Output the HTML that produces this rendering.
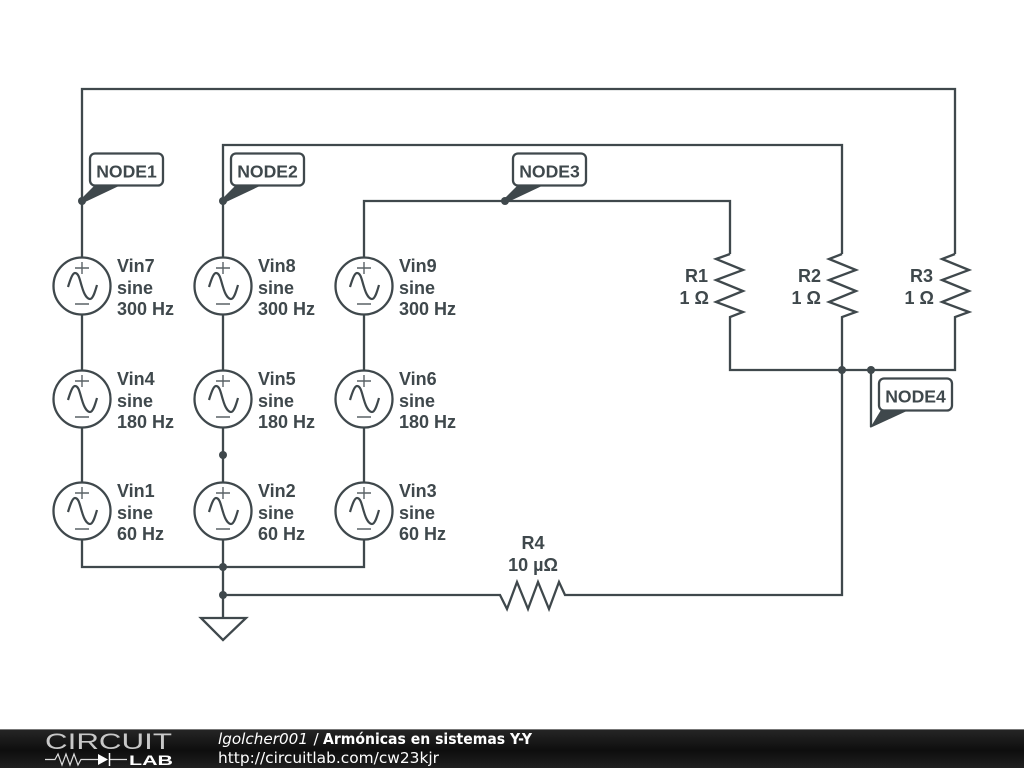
<!DOCTYPE html>
<html>
<head>
<meta charset="utf-8">
<style>
html,body{margin:0;padding:0;background:#fff;width:1024px;height:768px;overflow:hidden}
svg{display:block}
.w{fill:none;stroke:#3f484c;stroke-width:2.3}
.d{fill:#3f484c}
.t{font-family:"Liberation Sans",sans-serif;font-weight:bold;font-size:18px;fill:#3f484c}
.n{font-size:17.6px}
.f{font-family:"DejaVu Sans",sans-serif;font-size:15.4px;fill:#fff}
</style>
</head>
<body>
<svg width="1024" height="768" viewBox="0 0 1024 768" xmlns="http://www.w3.org/2000/svg">
<defs>
<linearGradient id="bar" x1="0" y1="0" x2="0" y2="1">
<stop offset="0" stop-color="#262626"/><stop offset="0.55" stop-color="#0e0e0e"/><stop offset="1" stop-color="#202020"/>
</linearGradient>
<g id="src">
<circle cx="0" cy="0" r="28.500" fill="#fff" stroke="#3f484c" stroke-width="2.300"/>
<path fill="none" stroke="#3f484c" stroke-width="2.200" d="M-14 1C-11 -9 -9 -13 -7 -13C-3 -13 -2 -5 0 1C2 8 5 13 8 13C11 13 13 6 15 -1"/>
<path fill="none" stroke="#5a6266" stroke-width="1.400" d="M-7 -18H7M0 -24V-12M-7 18H7"/>
</g>
</defs>

<!-- wires -->
<path class="w" d="M82 286V89H955V254"/>
<path class="w" d="M223 286V145H842V254"/>
<path class="w" d="M364 286V201H730V254"/>
<path class="w" d="M82 286V567H364V286"/>
<path class="w" d="M223 286V618"/>
<path class="w" d="M730 318V370H955V318"/>
<path class="w" d="M842 318V595H565L559 582L549 609L538 582L528 609L517 582L507 609L500 595H223"/>
<path class="w" d="M201 618H246L223 640Z"/>

<!-- resistors -->
<path class="w" d="M730 254L716 259L743 270L716 280L743 291L716 302L743 312L730 317V318"/>
<path class="w" d="M842 254L829 259L856 270L829 280L856 291L829 302L856 312L842 317V318"/>
<path class="w" d="M955 254L942 259L969 270L942 280L969 291L942 302L969 312L955 317V318"/>

<!-- sources -->
<use href="#src" x="82" y="286"/><use href="#src" x="223" y="286"/><use href="#src" x="364" y="286"/>
<use href="#src" x="82" y="399"/><use href="#src" x="223" y="399"/><use href="#src" x="364" y="399"/>
<use href="#src" x="82" y="511"/><use href="#src" x="223" y="511"/><use href="#src" x="364" y="511"/>

<!-- junction dots -->
<circle class="d" cx="82" cy="201" r="4"/>
<circle class="d" cx="223" cy="201" r="4"/>
<circle class="d" cx="505" cy="201" r="4"/>
<circle class="d" cx="223" cy="455" r="4"/>
<circle class="d" cx="223" cy="567" r="4"/>
<circle class="d" cx="223" cy="595" r="4"/>
<circle class="d" cx="842" cy="370" r="4"/>
<circle class="d" cx="871" cy="370" r="4"/>

<!-- node labels -->
<path class="d" d="M80 200L95 185H121L83 203Z"/>
<path class="d" d="M221 200L236 185H262L224 203Z"/>
<path class="d" d="M503 200L518 185H544L506 203Z"/>
<path class="w" d="M871 370V427"/>
<path class="d" d="M870 428L881 410H909Z"/>
<rect x="90" y="153.500" width="73" height="32" rx="5" fill="#fff" stroke="#3f484c" stroke-width="2.300"/>
<rect x="231" y="153.500" width="73" height="32" rx="5" fill="#fff" stroke="#3f484c" stroke-width="2.300"/>
<rect x="513" y="153.500" width="73" height="32" rx="5" fill="#fff" stroke="#3f484c" stroke-width="2.300"/>
<rect x="879" y="378.500" width="73" height="32" rx="5" fill="#fff" stroke="#3f484c" stroke-width="2.300"/>
<text class="t n" x="126.500" y="177.500" text-anchor="middle">NODE1</text>
<text class="t n" x="267.500" y="177.500" text-anchor="middle">NODE2</text>
<text class="t n" x="549.500" y="177.500" text-anchor="middle">NODE3</text>
<text class="t n" x="915.500" y="402.500" text-anchor="middle">NODE4</text>

<!-- source labels -->
<text class="t" x="117" y="272">Vin7</text><text class="t" x="117" y="294">sine</text><text class="t" x="117" y="315">300 Hz</text>
<text class="t" x="258" y="272">Vin8</text><text class="t" x="258" y="294">sine</text><text class="t" x="258" y="315">300 Hz</text>
<text class="t" x="399" y="272">Vin9</text><text class="t" x="399" y="294">sine</text><text class="t" x="399" y="315">300 Hz</text>
<text class="t" x="117" y="385">Vin4</text><text class="t" x="117" y="407">sine</text><text class="t" x="117" y="428">180 Hz</text>
<text class="t" x="258" y="385">Vin5</text><text class="t" x="258" y="407">sine</text><text class="t" x="258" y="428">180 Hz</text>
<text class="t" x="399" y="385">Vin6</text><text class="t" x="399" y="407">sine</text><text class="t" x="399" y="428">180 Hz</text>
<text class="t" x="117" y="497">Vin1</text><text class="t" x="117" y="519">sine</text><text class="t" x="117" y="540">60 Hz</text>
<text class="t" x="258" y="497">Vin2</text><text class="t" x="258" y="519">sine</text><text class="t" x="258" y="540">60 Hz</text>
<text class="t" x="399" y="497">Vin3</text><text class="t" x="399" y="519">sine</text><text class="t" x="399" y="540">60 Hz</text>

<!-- resistor labels -->
<text class="t" x="708" y="282" text-anchor="end">R1</text><text class="t" x="709" y="304" text-anchor="end">1 Ω</text>
<text class="t" x="821" y="282" text-anchor="end">R2</text><text class="t" x="821" y="304" text-anchor="end">1 Ω</text>
<text class="t" x="933" y="282" text-anchor="end">R3</text><text class="t" x="934" y="304" text-anchor="end">1 Ω</text>
<text class="t" x="533" y="549" text-anchor="middle">R4</text>
<text class="t" x="533" y="571" text-anchor="middle">10 µΩ</text>

<!-- footer -->
<rect x="0" y="729" width="1024" height="39" fill="url(#bar)"/>
<rect x="0" y="729" width="1024" height="1" fill="#777"/>
<text x="45" y="749" font-family="'Liberation Sans',sans-serif" font-size="22" fill="#c8c8c8" textLength="127" lengthAdjust="spacingAndGlyphs">CIRCUIT</text>
<path d="M45 759.500H55L58 754L62 765L66 754L70 765L74 754L78 765L81 759.500H98M110 759.500H127" fill="none" stroke="#ddd" stroke-width="1.200"/>
<path d="M98 754V765L108 759.500Z" fill="#fff"/>
<path d="M109.500 753V766" stroke="#fff" stroke-width="1.500"/>
<text x="129" y="765" font-family="'Liberation Sans',sans-serif" font-size="14" font-weight="bold" fill="#fff" textLength="44" lengthAdjust="spacingAndGlyphs">LAB</text>
<text class="f" x="218" y="744" font-style="oblique" textLength="90" lengthAdjust="spacingAndGlyphs">lgolcher001</text>
<text class="f" x="313.500" y="744">/</text>
<text class="f" x="323" y="744" font-weight="bold" textLength="209" lengthAdjust="spacingAndGlyphs">Armónicas en sistemas Y-Y</text>
<text class="f" x="218" y="763" textLength="221" lengthAdjust="spacingAndGlyphs">http://circuitlab.com/cw23kjr</text>
</svg>
</body>
</html>
